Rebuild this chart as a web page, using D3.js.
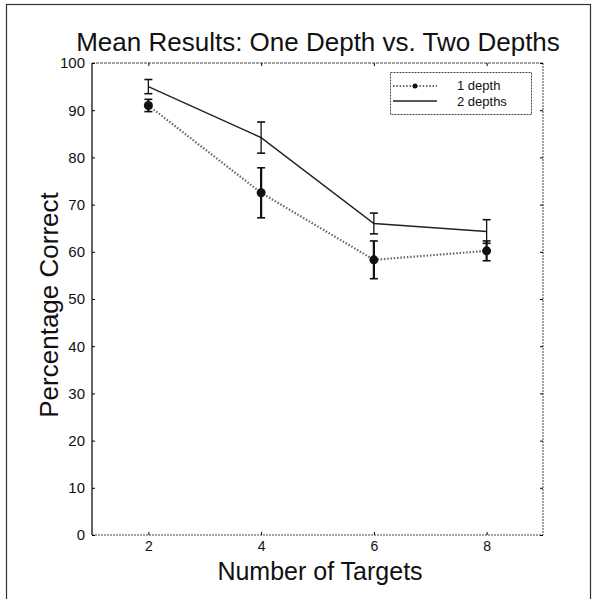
<!DOCTYPE html>
<html>
<head>
<meta charset="utf-8">
<script src="https://cdn.jsdelivr.net/npm/d3@7"></script>
<style>
  body { margin: 0; background: #fff; }
  text { font-family: "Liberation Sans", Arial, sans-serif; fill: #111; }
</style>
</head>
<body>
<svg id="chart" width="595" height="599"></svg>
<script>
// data
let targets = [2, 4, 6, 8];
let oneDepthMean = [91, 72.5, 58.3, 60.2];
let oneDepthErr = [1.3, 5.3, 4.0, 2.1];
let twoDepthMean = [95, 84.2, 66, 64.3];
let twoDepthErr = [1.5, 3.3, 2.2, 2.5];
let xTicks = [2, 4, 6, 8];
let yTicks = [0, 10, 20, 30, 40, 50, 60, 70, 80, 90, 100];

let svg = d3.select('#chart');

// outer frame
svg.append('rect')
    .attr('x', 6.5).attr('y', 4.5)
    .attr('width', 584).attr('height', 640)
    .attr('fill', 'none').attr('stroke', '#333').attr('stroke-width', 1.2);

let pLeft = 92, pRight = 543, pTop = 63, pBottom = 535;

let x = d3.scaleLinear().domain([1, 9]).range([pLeft, pRight]);
let y = d3.scaleLinear().domain([0, 100]).range([pBottom, pTop]);

// axes box
let g = svg.append('g');
g.append('line').attr('x1', pLeft).attr('x2', pLeft).attr('y1', pTop).attr('y2', pBottom)
    .attr('stroke', '#111').attr('stroke-width', 1.3);
g.append('line').attr('x1', pLeft).attr('x2', pRight).attr('y1', pBottom).attr('y2', pBottom)
    .attr('stroke', '#444').attr('stroke-width', 1).attr('stroke-dasharray', '2,1');
g.append('line').attr('x1', pLeft).attr('x2', pRight).attr('y1', pTop).attr('y2', pTop)
    .attr('stroke', '#444').attr('stroke-width', 1).attr('stroke-dasharray', '3,1');
g.append('line').attr('x1', pRight).attr('x2', pRight).attr('y1', pTop).attr('y2', pBottom)
    .attr('stroke', '#444').attr('stroke-width', 1).attr('stroke-dasharray', '2,1');

// y axis (ticks inward, mirrored on the right)
let yAxis = d3.axisLeft(y).tickValues(yTicks).tickSizeInner(-3).tickSizeOuter(0).tickPadding(7);
let ya = svg.append('g').attr('transform', 'translate(' + pLeft + ',0)').call(yAxis);
ya.select('.domain').remove();
ya.selectAll('text').style('font-size', '15px');
let yr = svg.append('g').attr('transform', 'translate(' + pRight + ',0)')
    .call(d3.axisRight(y).tickValues(yTicks).tickSizeInner(-3).tickSizeOuter(0).tickFormat(''));
yr.select('.domain').remove();

let xAxis = d3.axisBottom(x).tickValues(xTicks).tickSizeInner(-3).tickSizeOuter(0).tickPadding(6);
let xa = svg.append('g').attr('transform', 'translate(0,' + pBottom + ')').call(xAxis);
xa.select('.domain').remove();
xa.selectAll('text').style('font-size', '14px');
let xt = svg.append('g').attr('transform', 'translate(0,' + pTop + ')')
    .call(d3.axisTop(x).tickValues(xTicks).tickSizeInner(-3).tickSizeOuter(0).tickFormat(''));
xt.select('.domain').remove();

// series
let line = d3.line().x(function (d) { return x(d[0]); }).y(function (d) { return y(d[1]); });

let one = targets.map(function (t, i) { return [t, oneDepthMean[i], oneDepthErr[i]]; });
let two = targets.map(function (t, i) { return [t, twoDepthMean[i], twoDepthErr[i]]; });

svg.append('path').datum(one).attr('d', line)
    .attr('fill', 'none').attr('stroke', '#666').attr('stroke-width', 2.2)
    .attr('stroke-dasharray', '1.5,1.8');
svg.append('path').datum(two).attr('d', line)
    .attr('fill', 'none').attr('stroke', '#222').attr('stroke-width', 1.5);

function errorBars(data, width, cap) {
    let eb = svg.append('g').selectAll('g').data(data).enter().append('g');
    eb.append('line')
        .attr('x1', function (d) { return x(d[0]); }).attr('x2', function (d) { return x(d[0]); })
        .attr('y1', function (d) { return y(d[1] - d[2]); }).attr('y2', function (d) { return y(d[1] + d[2]); })
        .attr('stroke', '#111').attr('stroke-width', width);
    [-1, 1].forEach(function (s) {
        eb.append('line')
            .attr('x1', function (d) { return x(d[0]) - cap; }).attr('x2', function (d) { return x(d[0]) + cap; })
            .attr('y1', function (d) { return y(d[1] + s * d[2]); }).attr('y2', function (d) { return y(d[1] + s * d[2]); })
            .attr('stroke', '#111').attr('stroke-width', 1.6);
    });
}
errorBars(two, 1.3, 4);
errorBars(one, 2.2, 4);

svg.append('g').selectAll('circle').data(one).enter().append('circle')
    .attr('cx', function (d) { return x(d[0]); })
    .attr('cy', function (d) { return y(d[1]); })
    .attr('r', 4.5).attr('fill', '#111');

// legend
let lg = svg.append('g');
lg.append('rect').attr('x', 390.5).attr('y', 72.5).attr('width', 141).attr('height', 42)
    .attr('fill', '#fff').attr('stroke', '#444').attr('stroke-dasharray', '2,1');
lg.append('line').attr('x1', 393).attr('x2', 437).attr('y1', 86).attr('y2', 86)
    .attr('stroke', '#666').attr('stroke-width', 2).attr('stroke-dasharray', '1.5,1.8');
lg.append('circle').attr('cx', 415).attr('cy', 86).attr('r', 2.5).attr('fill', '#111');
lg.append('line').attr('x1', 393).attr('x2', 437).attr('y1', 101).attr('y2', 101)
    .attr('stroke', '#222').attr('stroke-width', 1.5);
lg.append('text').attr('x', 457).attr('y', 90).style('font-size', '13px').text('1 depth');
lg.append('text').attr('x', 457).attr('y', 106).style('font-size', '13px').text('2 depths');

// titles
svg.append('text').attr('x', 318).attr('y', 51).attr('text-anchor', 'middle')
    .style('font-size', '26px').text('Mean Results: One Depth vs. Two Depths');
svg.append('text').attr('x', 320).attr('y', 580).attr('text-anchor', 'middle')
    .style('font-size', '25px').text('Number of Targets');
svg.append('text').attr('transform', 'translate(58,305) rotate(-90)')
    .attr('text-anchor', 'middle').style('font-size', '26px').text('Percentage Correct');
</script>
</body>
</html>
